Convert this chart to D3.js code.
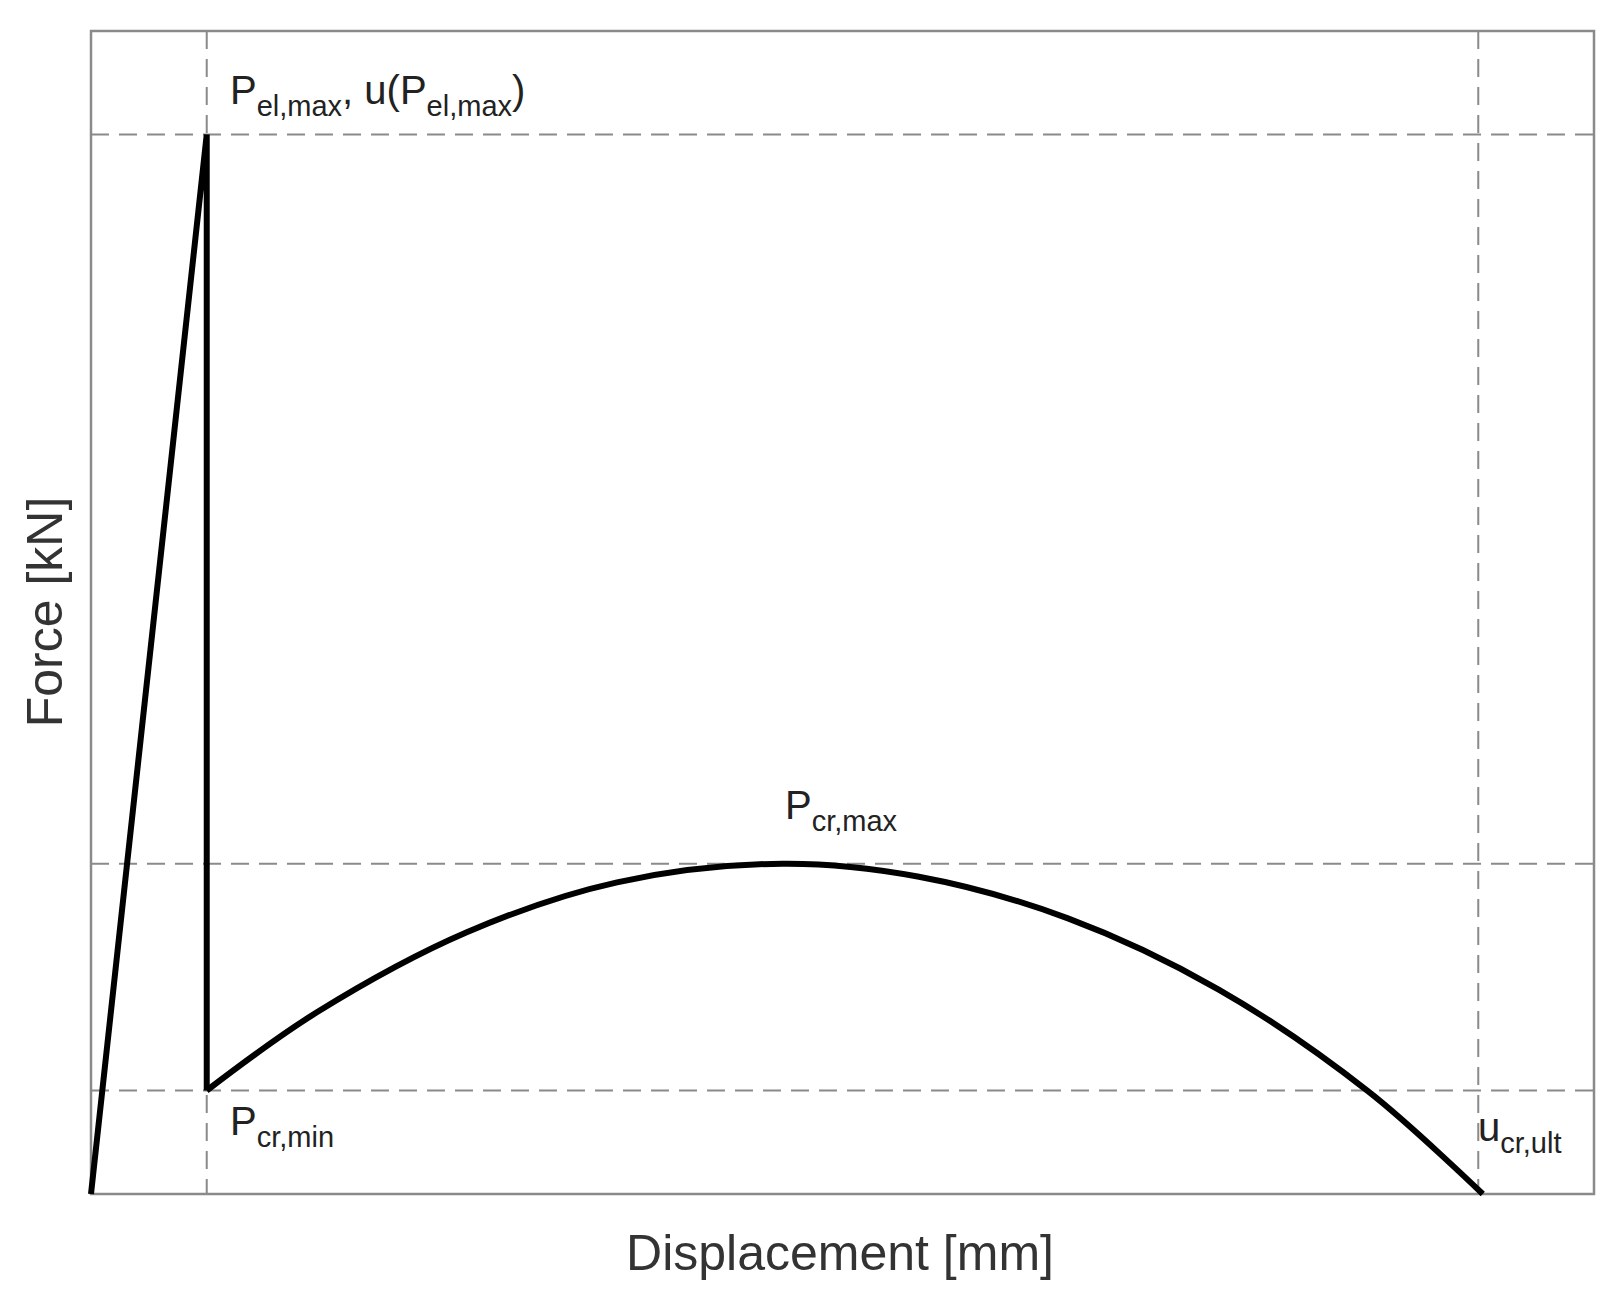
<!DOCTYPE html>
<html><head><meta charset="utf-8">
<script src="https://cdn.jsdelivr.net/npm/d3@7"></script>
<style>body{margin:0;background:#fff}</style>
</head><body>
<svg id="chart" width="1617" height="1292"></svg>
<script>
// force-displacement curve, arbitrary units (0-100)
const dispX = [0, 7.7, 7.7, 15, 25, 35, 46, 55, 65, 75, 85, 92.6];
const forceY = [0, 91.1, 8.9, 15.6, 22.5, 26.8, 28.4, 27.3, 23.7, 17.6, 8.8, 0];
const refX = [7.7, 92.3];            // u(Pel,max), u_cr,ult
const refY = [91.1, 28.4, 8.9];      // Pel,max, Pcr,max, Pcr,min

const svg = d3.select("#chart");
const m = {l: 91, r: 23, t: 31, b: 98};
const W = 1617, H = 1292;
const x = d3.scaleLinear().domain([0, 100]).range([m.l, W - m.r]);
const y = d3.scaleLinear().domain([0, 100]).range([H - m.b, m.t]);
const font = "Liberation Sans, Arial, sans-serif";

// dashed reference lines
svg.selectAll(".vref").data(refX).enter().append("line")
  .attr("x1", d => x(d)).attr("x2", d => x(d))
  .attr("y1", y(100)).attr("y2", y(0))
  .attr("stroke", "#8a8a8a").attr("stroke-width", 2).attr("stroke-dasharray", "18,10");
svg.selectAll(".href").data(refY).enter().append("line")
  .attr("x1", x(0)).attr("x2", x(100))
  .attr("y1", d => y(d)).attr("y2", d => y(d))
  .attr("stroke", "#8a8a8a").attr("stroke-width", 2).attr("stroke-dasharray", "18,10");

// frame
svg.append("rect").attr("x", x(0)).attr("y", y(100))
  .attr("width", x(100) - x(0)).attr("height", y(0) - y(100))
  .attr("fill", "none").attr("stroke", "#8a8a8a").attr("stroke-width", 2.5);

// curve: elastic part straight, cracked part smooth
const pts = dispX.map((d, i) => [d, forceY[i]]);
const line = d3.line().x(d => x(d[0])).y(d => y(d[1]));
svg.append("path").attr("d", line(pts.slice(0, 3)))
  .attr("fill", "none").attr("stroke", "#000").attr("stroke-width", 6).attr("stroke-linejoin", "miter");
svg.append("path").attr("d", line.curve(d3.curveCatmullRom)(pts.slice(2)))
  .attr("fill", "none").attr("stroke", "#000").attr("stroke-width", 6);

// parts: [text, 0 = normal, 1 = subscript, -1 = normal after subscript]
function label(px, py, parts) {
  const t = svg.append("text").attr("x", px).attr("y", py)
    .attr("font-family", font).attr("fill", "#222");
  parts.forEach(p => {
    t.append("tspan").attr("font-size", p[1] === 1 ? 29 : 40)
      .attr("dy", p[1] === 1 ? 12 : (p[1] === -1 ? -12 : 0)).text(p[0]);
  });
}
label(230, 104, [["P", 0], ["el,max", 1], [", u(P", -1], ["el,max", 1], [")", -1]]);
label(785, 819, [["P", 0], ["cr,max", 1]]);
label(230, 1135, [["P", 0], ["cr,min", 1]]);
label(1478, 1141, [["u", 0], ["cr,ult", 1]]);

svg.append("text").attr("x", 840).attr("y", 1270).attr("text-anchor", "middle")
  .attr("font-family", font).attr("font-size", 50).attr("fill", "#333").text("Displacement [mm]");
svg.append("text").attr("transform", "translate(62,612) rotate(-90)").attr("text-anchor", "middle")
  .attr("font-family", font).attr("font-size", 50).attr("fill", "#333").text("Force [kN]");
</script>
</body></html>
